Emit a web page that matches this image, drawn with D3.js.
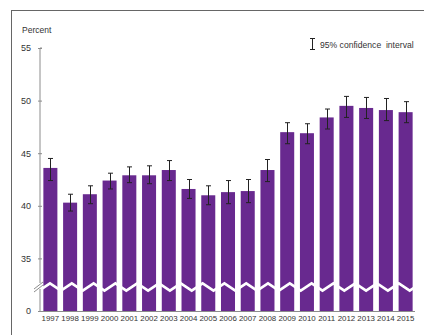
<!DOCTYPE html>
<html>
<head>
<meta charset="utf-8">
<script src="https://cdn.jsdelivr.net/npm/d3@7"></script>
<style>
  html, body { margin: 0; padding: 0; background: #fff; }
  svg { display: block; font-family: "Liberation Sans", Arial, sans-serif; }
</style>
</head>
<body>
<svg id="chart" width="424" height="335"></svg>
<script>
// Annual estimates (percent) with 95% confidence limits
const years = ["1997","1998","1999","2000","2001","2002","2003","2004","2005","2006",
               "2007","2008","2009","2010","2011","2012","2013","2014","2015"];
const values = [43.6, 40.3, 41.1, 42.4, 42.9, 42.9, 43.4, 41.6, 41.0, 41.3,
                41.4, 43.4, 47.0, 46.9, 48.4, 49.5, 49.3, 49.1, 48.9];
const lower  = [42.4, 39.5, 40.2, 41.6, 42.2, 42.1, 42.4, 40.7, 40.1, 40.2,
                40.3, 42.3, 45.9, 45.9, 47.3, 48.4, 48.3, 48.1, 47.9];
const upper  = [44.5, 41.1, 41.9, 43.1, 43.7, 43.8, 44.3, 42.5, 41.9, 42.4,
                42.5, 44.4, 47.9, 47.8, 49.2, 50.4, 50.3, 50.2, 49.9];
// The axis is broken: the lowest tick sits at 30 but reads "0"
const yTicks = [30, 35, 40, 45, 50, 55];
const yTickLabels = ["0", "35", "40", "45", "50", "55"];

const svg = d3.select("#chart");
const axisColor = "#8c8c8c";
const barColor = "#68298f";

// Outer frame
svg.append("rect")
  .attr("x", 11.5).attr("y", 10.5)
  .attr("width", 440).attr("height", 360)
  .attr("fill", "none").attr("stroke", "#666").attr("stroke-width", 1);

const x0 = 40, x1 = 415, yTop = 48, yBase = 311;

const x = d3.scaleBand().domain(years).range([x0 + 1, x1]).paddingInner(0.29).paddingOuter(0.12);
const y = d3.scaleLinear().domain([30, 55]).range([yBase, yTop]);

// Bars
svg.append("g").selectAll("rect").data(years).join("rect")
  .attr("x", d => x(d))
  .attr("width", x.bandwidth())
  .attr("y", (d, i) => y(values[i]))
  .attr("height", (d, i) => yBase - y(values[i]))
  .attr("fill", barColor);

// Scale-break zigzag across the bars
const breakY = 287, amp = 3.6, period = 21.8, phase = 50;
const zig = [];
for (let px = phase - period * 2; px <= x1 + period; px += period / 2) {
  const k = Math.round((px - phase) / (period / 2));
  zig.push([px, k % 2 === 0 ? breakY - amp : breakY + amp]);
}
svg.append("path")
  .attr("d", d3.line()(zig.filter(p => p[0] >= x0 - 12)))
  .attr("fill", "none").attr("stroke", "#fff").attr("stroke-width", 2.6)
  .attr("clip-path", "url(#plotclip)");
svg.append("clipPath").attr("id", "plotclip")
  .append("rect").attr("x", x0 + 1).attr("y", 270).attr("width", x1 - x0).attr("height", 40);

// Y axis
const yAxis = d3.axisLeft(y).tickValues(yTicks)
  .tickFormat((d, i) => yTickLabels[i]).tickSize(3).tickPadding(6);
const gy = svg.append("g").attr("transform", `translate(${x0},0)`).call(yAxis);
gy.select(".domain").attr("stroke", axisColor).attr("d", `M0,${yTop}H2M0,${yTop}V${yBase}`);
gy.selectAll(".tick line").attr("stroke", axisColor).attr("x1", -2).attr("x2", 2);
gy.selectAll(".tick text").attr("fill", "#333").style("font-size", "9px")
  .style("font-family", "'Liberation Sans', Arial, sans-serif");

// Break marks on the y axis
svg.append("rect").attr("x", x0 - 3).attr("y", 283).attr("width", 6).attr("height", 6).attr("fill", "#fff");
[[0], [3]].forEach(([dy]) => {
  svg.append("line")
    .attr("x1", x0 - 6).attr("y1", 290 + dy - 1)
    .attr("x2", x0 + 3).attr("y2", 283 + dy - 1)
    .attr("stroke", axisColor).attr("stroke-width", 1);
});

// X axis
const xAxis = d3.axisBottom(x).tickSize(0).tickPadding(4);
const gx = svg.append("g").attr("transform", `translate(0,${yBase})`).call(xAxis);
gx.select(".domain").attr("stroke", axisColor).attr("d", `M${x0},0.5H${x1}`);
gx.selectAll(".tick text").attr("fill", "#333").style("font-size", "7.9px")
  .style("font-family", "'Liberation Sans', Arial, sans-serif");

// Confidence interval whiskers
const cap = 2.5;
const eg = svg.append("g").attr("stroke", "#222").attr("stroke-width", 1);
years.forEach((yr, i) => {
  const cx = Math.round(x(yr) + x.bandwidth() / 2) + 0.5;
  eg.append("line").attr("x1", cx).attr("x2", cx).attr("y1", y(upper[i])).attr("y2", y(lower[i]));
  eg.append("line").attr("x1", cx - cap).attr("x2", cx + cap).attr("y1", y(upper[i])).attr("y2", y(upper[i]));
  eg.append("line").attr("x1", cx - cap).attr("x2", cx + cap).attr("y1", y(lower[i])).attr("y2", y(lower[i]));
});

// Axis title
svg.append("text").attr("x", 22).attr("y", 33).attr("fill", "#333")
  .style("font-size", "8.5px").text("Percent");

// Legend
const lg = svg.append("g").attr("stroke", "#222").attr("stroke-width", 1);
lg.append("line").attr("x1", 312.5).attr("x2", 312.5).attr("y1", 38).attr("y2", 50);
lg.append("line").attr("x1", 310).attr("x2", 315).attr("y1", 38.5).attr("y2", 38.5);
lg.append("line").attr("x1", 310).attr("x2", 315).attr("y1", 49.5).attr("y2", 49.5);
svg.append("text").attr("x", 320).attr("y", 47.5).attr("fill", "#333")
  .style("font-size", "8.6px").attr("xml:space", "preserve")
  .text("95% confidence  interval");
</script>
</body>
</html>
